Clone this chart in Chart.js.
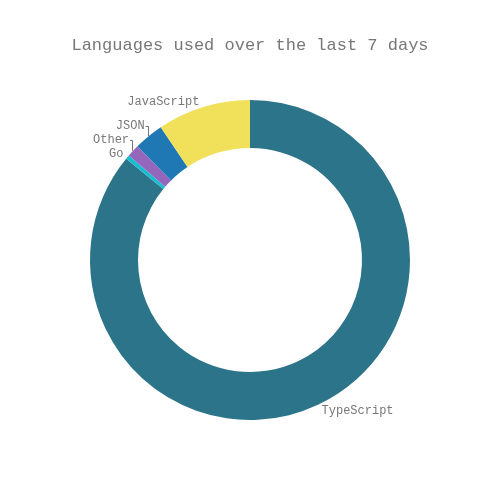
<!DOCTYPE html>
<html>
<head>
<meta charset="utf-8">
<script src="https://cdn.jsdelivr.net/npm/chart.js@4"></script>
<style>
html,body{margin:0;padding:0;background:#fff;}
#wrap{width:500px;height:500px;}
</style>
</head>
<body>
<div id="wrap"><canvas id="c" width="500" height="500"></canvas></div>
<script>
const titleText = "Languages used over the last 7 days";
const languages = ["TypeScript", "Go", "Other", "JSON", "JavaScript"];
const shares = [85.9, 0.42, 1.25, 3.0, 9.42];
const colors = ["#2b7489", "#17becf", "#9467bd", "#1f77b4", "#f1e05a"];

const FONT = "'Liberation Mono', 'DejaVu Sans Mono', monospace";

const outsideLabels = {
  id: 'outsideLabels',
  afterDatasetsDraw(chart) {
    const ctx = chart.ctx;
    const meta = chart.getDatasetMeta(0);
    const lineH = 14;
    const items = meta.data.map((arc, i) => {
      const p = arc.getProps(['x','y','startAngle','endAngle','outerRadius'], true);
      const mid = (p.startAngle + p.endAngle) / 2;
      const px = p.x + Math.cos(mid) * p.outerRadius;
      const py = p.y + Math.sin(mid) * p.outerRadius;
      const cy = py + Math.sin(mid) * (lineH - 2) / 2 + 0.5;
      return {i, px, py, cy, left: px < p.x, top: py < p.y, text: languages[i]};
    });
    ctx.save();
    ctx.font = "12px " + FONT;
    ctx.fillStyle = "#777";
    ctx.strokeStyle = "#777";
    ctx.lineWidth = 1;
    // left-top group: resolve overlaps from lowest label upward
    const lt = items.filter(o => o.left && o.top).sort((a,b) => b.cy - a.cy);
    let limit = Infinity;
    lt.forEach(o => {
      let c = o.cy;
      if (c > limit) { c = limit; o.shifted = true; }
      o.cy = c;
      limit = c - lineH;
    });
    items.forEach(o => {
      const xr = o.left ? o.px - 3 : o.px + 3;
      if (o.shifted) {
        ctx.beginPath();
        ctx.moveTo(Math.round(o.px) - 0.5, o.py);
        ctx.lineTo(Math.round(o.px) - 0.5, Math.round(o.cy) + 0.5);
        ctx.lineTo(xr, Math.round(o.cy) + 0.5);
        ctx.stroke();
      }
      ctx.textAlign = o.left ? 'right' : 'left';
      ctx.textBaseline = 'middle';
      ctx.fillText(o.text, o.left ? xr - 1 : xr, o.cy);
    });
    ctx.restore();
  }
};

new Chart(document.getElementById('c'), {
  type: 'doughnut',
  data: {
    labels: languages,
    datasets: [{
      data: shares,
      backgroundColor: colors,
      borderWidth: 0
    }]
  },
  options: {
    responsive: false,
    animation: false,
    cutout: '70%',
    rotation: 0,
    layout: { padding: { left: 0, right: 0, top: 0, bottom: 80 } },
    plugins: {
      legend: { display: false },
      tooltip: { enabled: false },
      title: {
        display: true,
        text: titleText,
        color: '#777',
        font: { family: FONT, size: 17, weight: 'normal', lineHeight: 1.2 },
        padding: { top: 34.8, bottom: 44.8 }
      }
    }
  },
  plugins: [outsideLabels]
});
</script>
</body>
</html>
